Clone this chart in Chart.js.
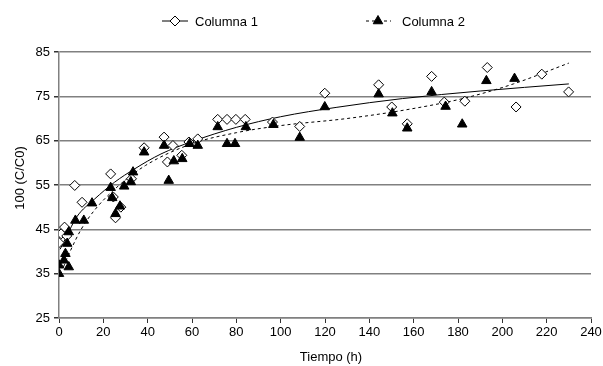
<!DOCTYPE html>
<html>
<head>
<meta charset="utf-8">
<script src="https://cdn.jsdelivr.net/npm/chart.js@4/dist/chart.umd.min.js"></script>
<style>
  body { margin: 0; background: #fff; }
  #wrap { width: 603px; height: 366px; }
</style>
</head>
<body>
<div id="wrap"><canvas id="chart" width="603" height="366"></canvas></div>
<script>
// Columna 1 (diamonds)
const col1Hours = [0, 1, 2.5, 3.5, 7.1, 10.4, 23.3, 24.5, 25.5, 27.9, 32.7, 38.4, 47.4, 48.9, 51.4, 55.4, 58.6, 62.6,
  71.6, 75.8, 79.8, 84, 96.3, 108.6, 119.9, 144.2, 150.1, 157.1, 168.1, 173.8, 183.1, 193.2, 206.2, 217.8, 229.9];
const col1Values = [42, 44, 45.5, 43.5, 54.9, 51.1, 57.5, 52.3, 47.6, 50.0, 56.4, 63.4, 65.8, 60.2, 63.9, 61.7, 64.7, 65.4,
  69.8, 69.8, 69.8, 69.8, 69.2, 68.2, 75.7, 77.6, 72.6, 68.8, 79.5, 73.7, 73.9, 81.5, 72.6, 80.0, 76.0];

// Columna 2 (triangles)
const col2Hours = [0, 0, 2.2, 2.9, 3.7, 4.4, 4.4, 7.4, 11.2, 14.9, 23.3, 24, 25.5, 27.5, 29.4, 32.4, 33.4, 38.4, 47.4, 49.5,
  51.8, 55.6, 58.9, 62.6, 71.6, 75.8, 79.4, 84.3, 96.7, 108.6, 119.9, 144.2, 150.4, 157.1, 168.1, 174.4, 181.9, 192.8, 205.5];
const col2Values = [35, 36.9, 38, 39.5, 41.8, 44.4, 36.5, 47, 47, 50.9, 54.4, 52.1, 48.5, 50.2, 54.7, 55.7, 57.9, 62.4, 63.9, 56.0,
  60.4, 60.9, 64.3, 63.9, 68.1, 64.3, 64.3, 68.1, 68.6, 65.7, 72.6, 75.5, 71.2, 67.8, 76.0, 72.7, 68.7, 78.5, 79.0];

// trend lines
const trend1Hours = [0.5, 3, 8, 16, 25, 34, 46, 60, 80, 100, 125, 155, 190, 230];
const trend1Values = [40.5, 43, 47.8, 51.8, 55.6, 58.6, 62, 64.8, 68, 70.4, 72.5, 74.5, 76.2, 77.8];
const trend2Hours = [2, 5, 10, 16, 25, 39, 60, 80, 100, 130, 157, 183, 205, 230];
const trend2Values = [36.5, 40, 45, 49.3, 54, 59.4, 64.3, 66.8, 68.4, 70, 72, 74.6, 77.8, 82.5];

const xTicks = [0, 240, 20];
const yTicks = [25, 85, 10];

const FONT = 'Liberation Sans, Arial, sans-serif';

function pts(xs, ys) {
  return xs.map((x, i) => ({ x: x, y: ys[i] }));
}

const textPlugin = {
  id: 'textPlugin',
  afterDraw(chart) {
    const ctx = chart.ctx;
    const draw = Chart.helpers.drawPoint;
    ctx.save();
    ctx.fillStyle = '#000';
    ctx.font = '13px ' + FONT;
    ctx.textBaseline = 'middle';

    // legend: Columna 1
    const ly = 21;
    ctx.strokeStyle = '#000';
    ctx.lineWidth = 1;
    ctx.beginPath();
    ctx.moveTo(162, ly); ctx.lineTo(188, ly);
    ctx.stroke();
    ctx.fillStyle = '#fff';
    draw(ctx, { pointStyle: 'rectRot', radius: 5, borderWidth: 1 }, 175, ly);
    ctx.fillStyle = '#000';
    ctx.textAlign = 'left';
    ctx.fillText('Columna 1', 195, ly + 1);

    // legend: Columna 2
    ctx.setLineDash([3, 3]);
    ctx.beginPath();
    ctx.moveTo(366, ly); ctx.lineTo(391, ly);
    ctx.stroke();
    ctx.setLineDash([]);
    draw(ctx, { pointStyle: 'triangle', radius: 5.5, borderWidth: 1 }, 378, ly);
    ctx.fillText('Columna 2', 402, ly + 1);

    // axis titles
    ctx.textAlign = 'center';
    ctx.fillText('Tiempo (h)', 331, 357);
    ctx.translate(20, 178);
    ctx.rotate(-Math.PI / 2);
    ctx.fillText('100 (C/C0)', 0, 0);
    ctx.restore();
  }
};

new Chart(document.getElementById('chart'), {
  type: 'scatter',
  data: {
    datasets: [
      {
        label: 'Columna 2',
        data: pts(col2Hours, col2Values),
        pointStyle: 'triangle',
        pointRadius: 5.5,
        backgroundColor: '#000',
        borderColor: '#000',
        borderWidth: 1,
        order: 0
      },
      {
        label: 'Columna 1',
        data: pts(col1Hours, col1Values),
        pointStyle: 'rectRot',
        pointRadius: 5,
        backgroundColor: '#fff',
        borderColor: '#000',
        borderWidth: 1,
        order: 1
      },
      {
        label: 'trend 1',
        data: pts(trend1Hours, trend1Values),
        showLine: true,
        pointRadius: 0,
        borderColor: '#000',
        borderWidth: 1,
        cubicInterpolationMode: 'monotone',
        order: 2
      },
      {
        label: 'trend 2',
        data: pts(trend2Hours, trend2Values),
        showLine: true,
        pointRadius: 0,
        borderColor: '#000',
        borderWidth: 1,
        borderDash: [3, 3],
        cubicInterpolationMode: 'monotone',
        order: 3
      }
    ]
  },
  options: {
    responsive: false,
    animation: false,
    events: [],
    layout: { padding: { top: 52, right: 12, left: 0, bottom: 0 } },
    plugins: {
      legend: { display: false },
      tooltip: { enabled: false }
    },
    scales: {
      x: {
        type: 'linear',
        min: xTicks[0],
        max: xTicks[1],
        ticks: { stepSize: xTicks[2], color: '#000', font: { family: FONT, size: 13 }, padding: 2, maxRotation: 0 },
        grid: { drawOnChartArea: false, tickLength: 5, tickColor: '#333' },
        border: { color: '#808080', width: 1.5 },
        afterFit(scale) {
          scale.height = 48;
          scale.paddingLeft = 0;
          scale.paddingRight = 0;
        }
      },
      y: {
        min: yTicks[0],
        max: yTicks[1],
        ticks: { stepSize: yTicks[2], color: '#000', font: { family: FONT, size: 13 }, padding: 4 },
        grid: { color: '#808080', lineWidth: 1.5, tickLength: 5, tickColor: '#333' },
        border: { color: '#808080', width: 1.5 },
        afterFit(scale) {
          scale.width = 59;
        }
      }
    }
  },
  plugins: [textPlugin]
});
</script>
</body>
</html>
